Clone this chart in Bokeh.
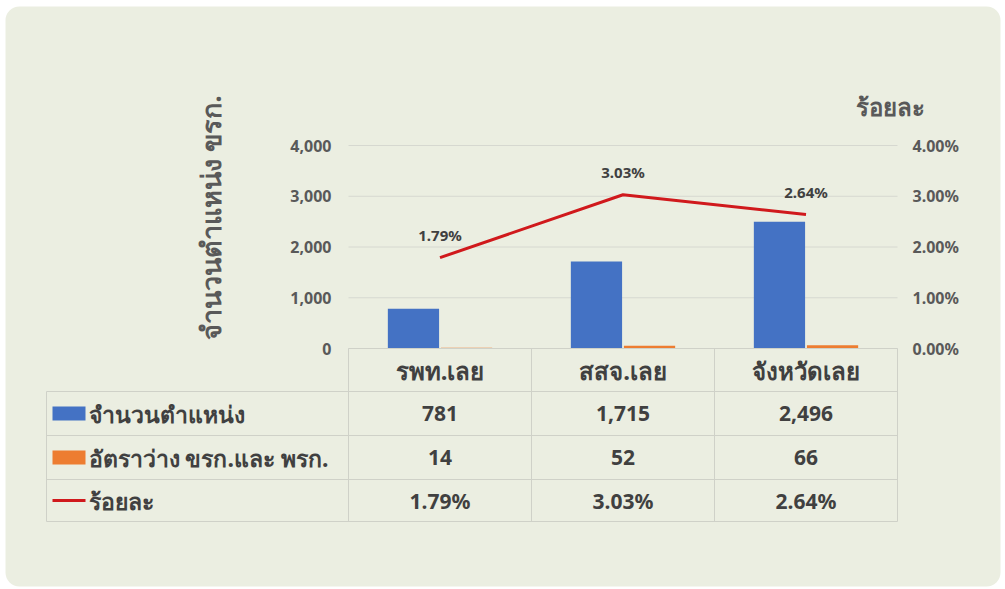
import numpy as np
from bokeh.plotting import figure
from bokeh.models import Range1d, ColumnDataSource, BoxAnnotation
from bokeh.core.properties import value
from bokeh.embed import file_html
from bokeh.resources import INLINE
from bokeh.transform import dodge

# ---------------- data ----------------
categories = ["รพท.เลย", "สสจ.เลย", "จังหวัดเลย"]
positions = [781, 1715, 2496]
vacancies = [14, 52, 66]
percent = [1.79, 3.03, 2.64]
count_ticks = [0, 1000, 2000, 3000, 4000]
pct_ticks = [0, 1, 2, 3, 4]
series_names = ["จำนวนตำแหน่ง", "อัตราว่าง ขรก.และ พรก.", "ร้อยละ"]
left_title = "จำนวนตำแหน่ง ขรก."
right_title = "ร้อยละ"

# ---------------- layout constants (pixels) ----------------
W, H = 1005, 589
X0, X1 = 348, 897          # chart / table category area
Y_ZERO, Y_TOP = 348, 145   # pixel rows of 0 and axis max
CNT_MAX, PCT_MAX = 4000, 4
FONT = "Noto Sans"
BLUE, ORANGE, RED = "#4472c4", "#ed7d31", "#d0191c"
TXT, TICK = "#404040", "#595959"
GRID, TLINE = "#d6d8d0", "#cfd1c8"

n = len(categories)
u = (X1 - X0) / n
s_cnt = (Y_ZERO - Y_TOP) / CNT_MAX
s_pct = (Y_ZERO - Y_TOP) / PCT_MAX

p = figure(width=W, height=H, x_range=Range1d(0, W), y_range=Range1d(H, 0),
           output_backend="svg", toolbar_location=None, min_border=0,
           x_axis_location=None, y_axis_location=None)
p.grid.visible = False
p.outline_line_color = None
p.background_fill_color = "white"
p.border_fill_color = "white"
p.extra_x_ranges = {"cat": Range1d(-X0 / u, (W - X0) / u)}
p.extra_y_ranges = {"cnt": Range1d((Y_ZERO - H) / s_cnt, Y_ZERO / s_cnt),
                    "pct": Range1d((Y_ZERO - H) / s_pct, Y_ZERO / s_pct)}

# background panel
p.add_layout(BoxAnnotation(left=5, right=1000, top=6, bottom=586, fill_color="#ebeee1",
                           fill_alpha=1, line_color=None, border_radius=14, level="underlay"))

src = ColumnDataSource(dict(
    x=np.arange(n) + 0.5, cat=categories, positions=positions, vacancies=vacancies,
    percent=percent, pct_label=[f"{v:.2f}%" for v in percent],
    pos_label=[f"{v:,}" for v in positions], vac_label=[f"{v:,}" for v in vacancies],
))

# gridlines
grid_src = ColumnDataSource(dict(y=count_ticks, lab=[f"{v:,}" for v in count_ticks]))
p.segment(x0=0, x1=n, y0="y", y1="y", source=grid_src, x_range_name="cat",
          y_range_name="cnt", line_color=GRID, line_width=1)

# bars
p.vbar(x=dodge("x", -0.145), top="positions", bottom=0, width=0.28, source=src,
       x_range_name="cat", y_range_name="cnt", fill_color=BLUE, line_color=None)
p.vbar(x=dodge("x", 0.145), top="vacancies", bottom=0, width=0.28, source=src,
       x_range_name="cat", y_range_name="cnt", fill_color=ORANGE, line_color=None)

# percent line
p.line(x="x", y="percent", source=src, x_range_name="cat", y_range_name="pct",
       line_color=RED, line_width=3)
p.text(x="x", y="percent", text="pct_label", source=src, x_range_name="cat",
       y_range_name="pct", y_offset=-23, text_align="center", text_baseline="middle",
       text_font=value(FONT), text_font_style="bold", text_font_size="15px", text_color=TXT)

# axis tick labels
p.text(x=331, y="y", text="lab", source=grid_src, y_range_name="cnt", text_align="right",
       text_baseline="middle", text_font=value(FONT), text_font_style="bold",
       text_font_size="16px", text_color=TICK)
pct_src = ColumnDataSource(dict(y=pct_ticks, lab=[f"{v:.2f}%" for v in pct_ticks]))
p.text(x=912, y="y", text="lab", source=pct_src, y_range_name="pct", text_align="left",
       text_baseline="middle", text_font=value(FONT), text_font_style="bold",
       text_font_size="16px", text_color=TICK)

# axis titles
p.text(x=[210], y=[217], text=[left_title], angle=np.pi / 2, text_align="center",
       text_baseline="middle", text_font=value(FONT), text_font_style="bold",
       text_font_size="27px", text_color=TICK)
p.text(x=[890], y=[106], text=[right_title], text_align="center", text_baseline="middle",
       text_font=value(FONT), text_font_style="bold", text_font_size="24px",
       text_color=TICK)

# ---------------- data table ----------------
row_edges = [348, 391, 435, 479, 521]
row_mid = [(row_edges[i] + row_edges[i + 1]) / 2 for i in range(4)]
TL = 46
# horizontal lines
p.segment(x0=[X0], x1=[X1], y0=[row_edges[0]], y1=[row_edges[0]], line_color=TLINE)
p.segment(x0=TL, x1=X1, y0=row_edges[1:], y1=row_edges[1:], line_color=TLINE)
# vertical lines
p.segment(x0=list(range(n + 1)), x1=list(range(n + 1)), y0=row_edges[0], y1=row_edges[-1],
          x_range_name="cat", line_color=TLINE)
p.segment(x0=[TL], x1=[TL], y0=[row_edges[1]], y1=[row_edges[-1]], line_color=TLINE)

# header row: categories
p.text(x="x", y=row_mid[0], text="cat", source=src, x_range_name="cat",
       text_align="center", text_baseline="middle", text_font=value(FONT),
       text_font_style="bold", text_font_size="24px", text_color=TXT)
for key, rm in (("pos_label", row_mid[1]), ("vac_label", row_mid[2]), ("pct_label", row_mid[3])):
    p.text(x="x", y=rm, text=key, source=src, x_range_name="cat", text_align="center",
           text_baseline="middle", text_font=value(FONT), text_font_style="bold",
           text_font_size="21px", text_color=TXT)

# legend keys in the table
p.quad(left=[52, 52], right=[85, 85], top=[row_mid[1] - 7, row_mid[2] - 7],
       bottom=[row_mid[1] + 7, row_mid[2] + 7], fill_color=[BLUE, ORANGE], line_color=None)
p.segment(x0=[52], x1=[85], y0=[row_mid[3]], y1=[row_mid[3]], line_color=RED, line_width=3)
p.text(x=88, y=row_mid[1:], text=series_names, text_align="left", text_baseline="middle",
       text_font=value(FONT), text_font_style="bold", text_font_size="23px", text_color=TXT)

open("out.html", "w").write(file_html(p, INLINE))
